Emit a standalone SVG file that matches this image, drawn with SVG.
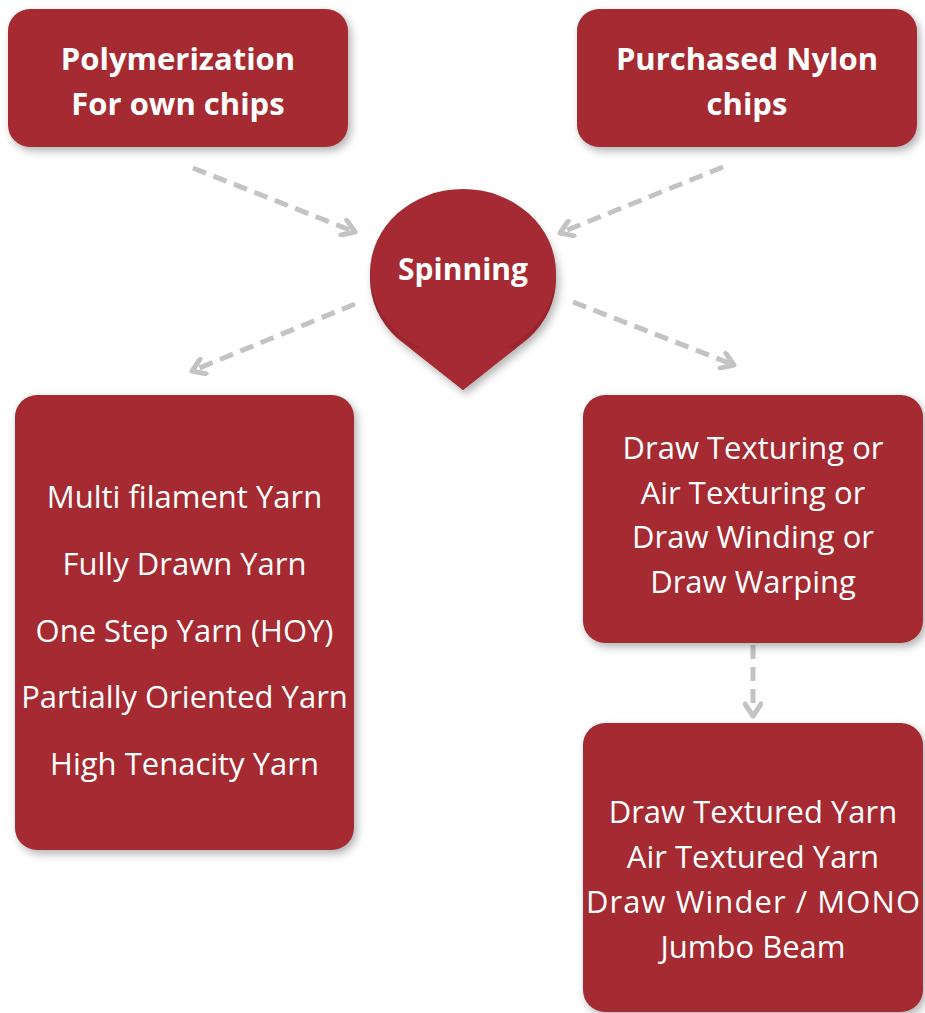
<svg xmlns="http://www.w3.org/2000/svg" width="925" height="1013" viewBox="0 0 925 1013">
<defs>
<style>
.box{fill:#A52A33;}
.t{font-family:"Open Sans","Liberation Sans",sans-serif;fill:#ffffff;text-anchor:middle;font-variant-ligatures:none;}
.b{font-weight:bold;font-size:31px;}
.r{font-size:31px;}
.c{fill:none;stroke:#C3C3C3;stroke-width:5;stroke-dasharray:14 8;}
</style>
<filter id="sh" x="-10%" y="-10%" width="125%" height="125%">
<feDropShadow dx="3" dy="4" stdDeviation="4" flood-color="#000" flood-opacity="0.3"/>
</filter>
<linearGradient id="cone" x1="0" y1="0" x2="0" y2="1">
<stop offset="0" stop-color="#7E1C23"/>
<stop offset="1" stop-color="#A52A33"/>
</linearGradient>
<marker id="ah" viewBox="0 0 20 20" refX="17" refY="10" markerWidth="20" markerHeight="20" markerUnits="userSpaceOnUse" orient="auto">
<polyline points="5,2 17,10 5,18" fill="none" stroke="#C3C3C3" stroke-width="5" stroke-linecap="round" stroke-linejoin="round"/>
</marker>
</defs>
<rect width="925" height="1013" fill="#ffffff"/>
<g id="connectors">
<line class="c" x1="193" y1="168" x2="355" y2="232" marker-end="url(#ah)"/>
<line class="c" x1="723" y1="167" x2="560" y2="233" marker-end="url(#ah)"/>
<line class="c" x1="355" y1="304" x2="192" y2="371" marker-end="url(#ah)"/>
<line class="c" x1="573" y1="302" x2="734" y2="365" marker-end="url(#ah)"/>
<line class="c" x1="753" y1="645" x2="753" y2="716" marker-end="url(#ah)"/>
</g>
<g id="polymerization">
<rect class="box" x="8" y="9" width="340" height="138" rx="22" filter="url(#sh)"/>
<text class="t b" x="178" y="70">Polymerization</text>
<text class="t b" x="178" y="115">For own chips</text>
</g>
<g id="purchased">
<rect class="box" x="577" y="9" width="340" height="138" rx="22" filter="url(#sh)"/>
<text class="t b" x="747" y="70">Purchased Nylon</text>
<text class="t b" x="747" y="115">chips</text>
</g>
<g id="spinning">
<path d="M463,390 L397,338 A93,84 0 1 1 529,338 Z" fill="url(#cone)" filter="url(#sh)"/>
<path d="M463,390 L410,348 L516,348 Z" fill="#A52A33"/>
<ellipse cx="463" cy="273" rx="93" ry="84" fill="#A52A33"/>
<text class="t b" x="463" y="280" style="font-size:30px">Spinning</text>
</g>
<g id="yarn-types">
<rect class="box" x="15" y="395" width="339" height="455" rx="22" filter="url(#sh)"/>
<text class="t r" x="184.5" y="508">Multi filament Yarn</text>
<text class="t r" x="184.5" y="575">Fully Drawn Yarn</text>
<text class="t r" x="184.5" y="642">One Step Yarn (HOY)</text>
<text class="t r" x="184.5" y="708">Partially Oriented Yarn</text>
<text class="t r" x="184.5" y="775">High Tenacity Yarn</text>
</g>
<g id="texturing">
<rect class="box" x="583" y="395" width="340" height="248" rx="22" filter="url(#sh)"/>
<text class="t r" x="753" y="459">Draw Texturing or</text>
<text class="t r" x="753" y="504">Air Texturing or</text>
<text class="t r" x="753" y="548">Draw Winding or</text>
<text class="t r" x="753" y="593">Draw Warping</text>
</g>
<g id="products">
<rect class="box" x="583" y="723" width="340" height="289" rx="22" filter="url(#sh)"/>
<text class="t r" x="753" y="823">Draw Textured Yarn</text>
<text class="t r" x="753" y="868">Air Textured Yarn</text>
<text class="t r" x="753" y="913" textLength="334" lengthAdjust="spacing">Draw Winder / MONO</text>
<text class="t r" x="753" y="958">Jumbo Beam</text>
</g>
</svg>
